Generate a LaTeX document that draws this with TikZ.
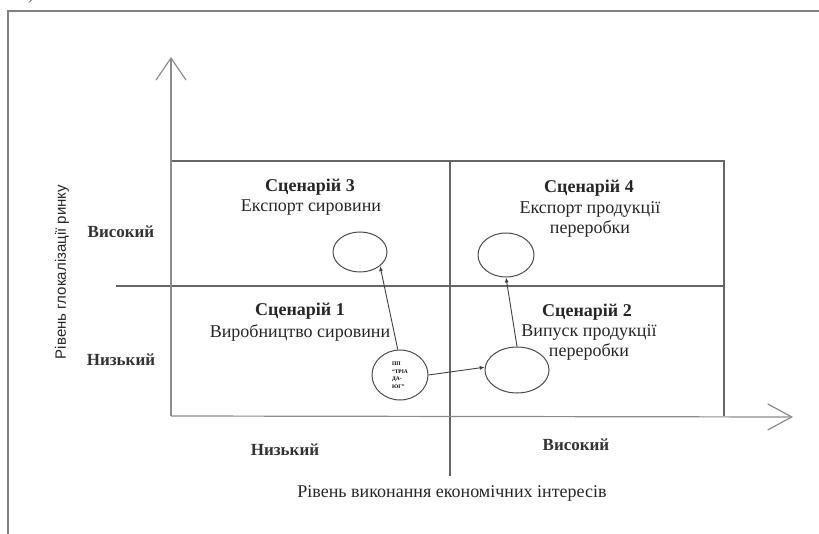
\documentclass[tikz,border=0pt]{standalone}
\usepackage{fontspec}
\setmainfont{Liberation Serif}
\newfontfamily\axisfont{Liberation Sans}
\usetikzlibrary{arrows.meta, shapes.geometric, positioning}

\begin{document}
\begin{tikzpicture}[x=1pt, y=-1pt,
        grid/.style={draw=black!60, line width=1.1pt},
        axis/.style={draw=black!45, line width=1.2pt},
        title/.style={font=\fontsize{18}{20}\selectfont\bfseries, text=black!85},
        caption/.style={font=\fontsize{18}{20}\selectfont, text=black!85, align=center},
        level/.style={font=\fontsize{17}{19}\selectfont\bfseries, text=black!80},
        oval/.style={ellipse, draw=black!70, line width=1pt, inner sep=0pt},
        link/.style={draw=black!75, line width=0.9pt, -{Latex[length=5pt,width=4pt]}}]
                        \useasboundingbox (0,0) rectangle (819,534);
                        \clip (0,0) rectangle (819,534);

                        \node[font=\fontsize{18}{20}\selectfont, text=black!70] (tag) at (31,-5) {)};

                        \node[title] (s3) at (310,187) {Сценарій 3};
                        \node[caption] (s3t) at (311,208) {Експорт сировини};
                        \node[title] (s4) at (589,188) {Сценарій 4};
                        \node[caption] (s4t) at (590,219) {Експорт продукції\\переробки};
                        \node[title] (s1) at (300,311) {Сценарій 1};
                        \node[caption] (s1t) at (300,333) {Виробництво сировини};
                        \node[title] (s2) at (587,312) {Сценарій 2};
                        \node[caption] (s2t) at (589,342) {Випуск продукції\\переробки};

                        \node[level] (hi) at (121,232) {Високий};
                        \node[level] (lo) at (121,360) {Низький};
                        \node[level] (xlo) at (285,450) {Низький};
                        \node[level] (xhi) at (576,445) {Високий};
                        \node[caption] (xlab) at (452,493) {Рівень виконання економічних інтересів};
                        \node[font=\axisfont\fontsize{15}{17}\selectfont, text=black!85, rotate=90] (ylab) at (62,272) {Рівень глокалізації ринку};

                        \node[oval, minimum width=54pt, minimum height=40pt] (e3) at (360,252) {};
                        \node[oval, minimum width=56pt, minimum height=44pt] (e4) at (506,255) {};
                        \node[oval, minimum width=56pt, minimum height=50pt,
                              font=\fontsize{5.5}{7.5}\selectfont\bfseries, align=left] (e1) at (400,375) {ПП\\“ТРІА\\ДА-\\ЮГ”};
                        \node[oval, minimum width=64pt, minimum height=46pt] (e2) at (517,370) {};

                        \coordinate (o) at (171,416);
                        \coordinate (ytip) at (171,57);
                        \coordinate (xtip) at (793,417);

                        % frame
                        \draw[draw=black!50, line width=1.5pt] (8,534) -- (8,11) -- (819,11);

                        % quadrants
                        \draw[grid] (171,161) -- (724,161) -- (724,416);
                        \draw[grid] (116,286) -- (724,286);
                        \draw[grid] (450,161) -- (450,476);

                        % axes
                        \draw[axis, -{Straight Barb[length=22pt,width=30pt]}] (o) -- (ytip);
                        \draw[axis, -{Straight Barb[length=24pt,width=26pt]}] (o) -- (xtip);

                        \draw
                        (e1.95) edge[link] (e3.-35)
                        (e1.east) edge[link] (e2.175)
                        (e2.north) edge[link] (e4.south);
                    \end{tikzpicture}
\end{document}
